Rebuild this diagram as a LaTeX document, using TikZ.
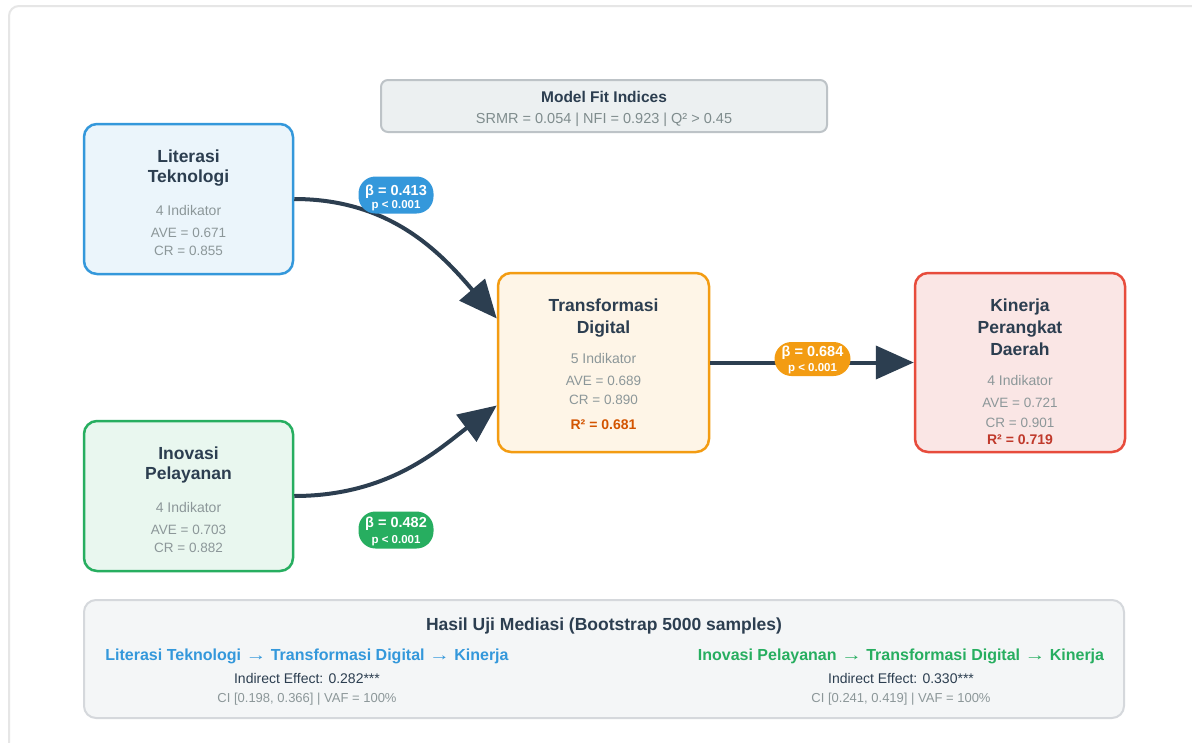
\documentclass[tikz,border=0pt]{standalone}
\usepackage{fontspec}
\setmainfont{Liberation Sans}
\usetikzlibrary{arrows.meta,calc}
\definecolor{dark}{HTML}{2C3E50}
\definecolor{txtgray}{HTML}{8C9799}
\definecolor{subgray}{HTML}{7F8C8D}
\definecolor{cblue}{HTML}{3498DB}
\definecolor{corange}{HTML}{F39C12}
\definecolor{cgreen}{HTML}{27AE60}
\definecolor{cred}{HTML}{E74C3C}
\definecolor{rorange}{HTML}{D35400}
\definecolor{rred}{HTML}{C0392B}
\definecolor{fblue}{HTML}{EBF5FB}
\definecolor{forange}{HTML}{FEF5E7}
\definecolor{fred}{HTML}{FAE6E5}
\definecolor{fgreen}{HTML}{E9F7EF}
\definecolor{fgray}{HTML}{ECF0F1}
\definecolor{bgray}{HTML}{BDC3C7}
\definecolor{fmed}{HTML}{F4F6F7}
\definecolor{bmed}{HTML}{D5D8DC}
\definecolor{frame}{HTML}{E6E6E6}
\newcommand\fsz[1]{\fontsize{#1}{#1}\selectfont}
\newcommand\rarr{\scalebox{1.3}[1]{→}}
\tikzset{
  construct/.style={draw, line width=2.5pt, rounded corners=13pt, inner sep=0pt},
  ttl/.style={anchor=base, text=dark, font=\fsz{17.5}\bfseries},
  ind/.style={anchor=base, text=txtgray, font=\fsz{14}},
  stat/.style={anchor=base, text=txtgray, font=\fsz{13.5}},
  pill/.style={rounded corners=17pt, inner sep=0pt, text=white, align=center},
  path/.style={draw=dark, line width=4pt, -{Triangle[length=38pt,width=33pt]}},
}
\begin{document}
\begin{tikzpicture}[x=1pt,y=-1pt]
\useasboundingbox (0,0) rectangle (1192,742);
\clip (0,0) rectangle (1192,742);
\fill[white] (0,0) rectangle (1192,742);
\draw[frame, line width=2pt, rounded corners=10pt] (9,6) rectangle (1230,780);

% model fit
\node[draw=bgray, fill=fgray, line width=2pt, rounded corners=7pt, minimum width=446pt, minimum height=52pt, inner sep=0pt] (fit) at (604,106) {};
\node[anchor=base, text=dark, font=\fsz{15.5}\bfseries] (fitt) at (604,102.5) {Model Fit Indices};
\node[anchor=base, text=subgray, font=\fsz{14.5}] (fits) at (604,123) {SRMR = 0.054 | NFI = 0.923 | Q² > 0.45};

% constructs
\node[construct, draw=cblue, fill=fblue, minimum width=209pt, minimum height=150pt] (lit) at (188.5,199) {};
\node[ttl] (lit1) at (188.5,162) {Literasi};
\node[ttl] (lit2) at (188.5,182) {Teknologi};
\node[ind] (lit3) at (188.5,215) {4 Indikator};
\node[stat] (lit4) at (188.5,237) {AVE = 0.671};
\node[stat] (lit5) at (188.5,255) {CR = 0.855};

\node[construct, draw=cgreen, fill=fgreen, minimum width=209pt, minimum height=150pt] (ino) at (188.5,496) {};
\node[ttl] (ino1) at (188.5,459) {Inovasi};
\node[ttl] (ino2) at (188.5,479) {Pelayanan};
\node[ind] (ino3) at (188.5,512) {4 Indikator};
\node[stat] (ino4) at (188.5,534) {AVE = 0.703};
\node[stat] (ino5) at (188.5,552) {CR = 0.882};

\node[construct, draw=corange, fill=forange, minimum width=211pt, minimum height=179pt] (td) at (603.5,362.5) {};
\node[ttl] (td1) at (603.5,311.5) {Transformasi};
\node[ttl] (td2) at (603.5,333) {Digital};
\node[ind] (td3) at (603.5,363) {5 Indikator};
\node[stat] (td4) at (603.5,385) {AVE = 0.689};
\node[stat] (td5) at (603.5,404) {CR = 0.890};
\node[anchor=base, text=rorange, font=\fsz{14}\bfseries] (td6) at (603.5,429.5) {R² = 0.681};

\node[construct, draw=cred, fill=fred, minimum width=210pt, minimum height=179pt] (kin) at (1020,362.5) {};
\node[ttl] (kin1) at (1020,311.5) {Kinerja};
\node[ttl] (kin2) at (1020,333) {Perangkat};
\node[ttl] (kin3) at (1020,355) {Daerah};
\node[ind] (kin4) at (1020,385) {4 Indikator};
\node[stat] (kin5) at (1020,407.5) {AVE = 0.721};
\node[stat] (kin6) at (1020,427.5) {CR = 0.901};
\node[anchor=base, text=rred, font=\fsz{14}\bfseries] (kin7) at (1020,444) {R² = 0.719};

% paths
\draw[path] (lit.east) .. controls (390,199) and (440,252) .. ($(td.west)+(0,-44)$);
\draw[path] (ino.east) .. controls (390,496) and (440,448) .. ($(td.west)+(0,43)$);
\draw[path] (td.east) -- (kin.west);

% pills
\node[pill, fill=cblue, minimum width=75pt, minimum height=37pt] (p1) at (396,195) {};
\node[anchor=base, text=white, font=\fsz{14.5}\bfseries] (p1a) at (396,195.5) {β = 0.413};
\node[anchor=base, text=white, font=\fsz{11.5}\bfseries] (p1b) at (396,208) {p < 0.001};

\node[pill, fill=corange, minimum width=76pt, minimum height=34pt] (p2) at (812.5,359) {};
\node[anchor=base, text=white, font=\fsz{14.5}\bfseries] (p2a) at (812.5,356.5) {β = 0.684};
\node[anchor=base, text=white, font=\fsz{11.5}\bfseries] (p2b) at (812.5,371.5) {p < 0.001};

\node[pill, fill=cgreen, minimum width=75pt, minimum height=37pt] (p3) at (396,530) {};
\node[anchor=base, text=white, font=\fsz{14.5}\bfseries] (p3a) at (396,527) {β = 0.482};
\node[anchor=base, text=white, font=\fsz{11.5}\bfseries] (p3b) at (396,543.5) {p < 0.001};

% mediation box
\node[draw=bmed, fill=fmed, line width=2pt, rounded corners=12pt, minimum width=1040pt, minimum height=118pt, inner sep=0pt] (med) at (604,659) {};
\node[anchor=base, text=dark, font=\fsz{17.5}\bfseries] (medt) at (604,630) {Hasil Uji Mediasi (Bootstrap 5000 samples)};
\node[anchor=base, text=cblue, font=\fsz{16}\bfseries] (m1) at (307,660) {Literasi Teknologi \rarr{} Transformasi Digital \rarr{} Kinerja};
\node[anchor=base, text=dark, font=\fsz{14}] (m2) at (307,683) {Indirect Effect: 0.282***};
\node[anchor=base, text=txtgray, font=\fsz{13}] (m3) at (307,702) {CI [0.198, 0.366] | VAF = 100\%};
\node[anchor=base, text=cgreen, font=\fsz{16}\bfseries] (m4) at (901,660) {Inovasi Pelayanan \rarr{} Transformasi Digital \rarr{} Kinerja};
\node[anchor=base, text=dark, font=\fsz{14}] (m5) at (901,683) {Indirect Effect: 0.330***};
\node[anchor=base, text=txtgray, font=\fsz{13}] (m6) at (901,702) {CI [0.241, 0.419] | VAF = 100\%};
\end{tikzpicture}
\end{document}
